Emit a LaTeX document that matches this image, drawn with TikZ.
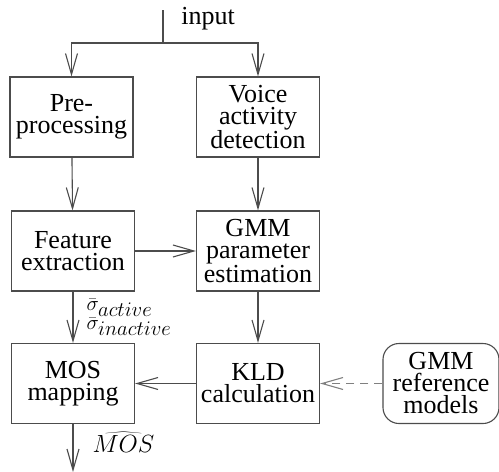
\documentclass[tikz,border=0pt]{standalone}
\usepackage{fontspec}
\usepackage{graphicx}
\setmainfont{Liberation Serif}
\usetikzlibrary{arrows.meta}
\newsavebox\hatbox
\newcommand{\bighat}[1]{\sbox\hatbox{$#1$}\makebox[0pt][l]{\resizebox{\wd\hatbox}{\height}{$\widehat{\vphantom{#1}\mkern18mu}$}}\usebox\hatbox}
\tikzset{every node/.style={draw=none,inner sep=0pt,align=center,font=\fontsize{26}{22}\selectfont}}
\tikzset{blk/.style={rectangle,draw=black!70,line width=1.1pt,minimum width=123pt,minimum height=80pt}}
\tikzset{rblk/.style={blk,rounded corners=16pt,minimum width=116pt}}
\tikzset{lbl/.style={font=\fontsize{21}{19}\selectfont,align=left}}
\tikzset{flow/.style={draw=black!70,line width=1.1pt,-{Straight Barb[length=21pt,width=12pt,line width=1.1pt]}}}

\begin{document}
\begin{tikzpicture}[x=1pt,y=-1pt]
      \useasboundingbox (0,0) rectangle (499,472);
      \node[blk] (pre) at (71.5,117) {Pre-\\processing};
      \node[blk] (vad) at (258,117) {Voice\\activity\\detection};
      \node[blk] (feat) at (73,251) {Feature\\extraction};
      \node[blk] (gmm) at (258,251) {GMM\\parameter\\estimation};
      \node[blk] (mos) at (73,383.5) {MOS\\mapping};
      \node[blk] (kld) at (258,383.5) {KLD\\calculation};
      \node[rblk] (ref) at (441,383.5) {GMM\\reference\\models};
      \coordinate (in) at (163,10);
      \coordinate (split) at (163,43);
      \coordinate (out) at (73,472);
      \node (inlbl) at (208,19) {input};
        \draw[draw=black!70,line width=1.1pt] (in) -- (split);
        \draw[flow] (split) -| (pre.north);
        \draw[flow] (split) -| (vad.north);
        \draw[flow] (pre) -- (feat);
        \draw[flow] (vad) -- (gmm);
        \draw[flow] (feat) -- (gmm);
        \draw[flow] (feat) -- node[lbl,right=13pt] {$\bar{\sigma}_{\textstyle active}$\\$\bar{\sigma}_{\textstyle inactive}$} (mos);
        \draw[flow] (gmm) -- (kld);
        \draw[flow] (kld) -- (mos);
        \draw[flow,draw=black!50,dashed,dash pattern=on 8pt off 6pt] (ref) -- (kld);
        \draw[flow] (mos) -- node[pos=0.38,right=19pt] {\bighat{MOS}} (out);
    \end{tikzpicture}
\end{document}
